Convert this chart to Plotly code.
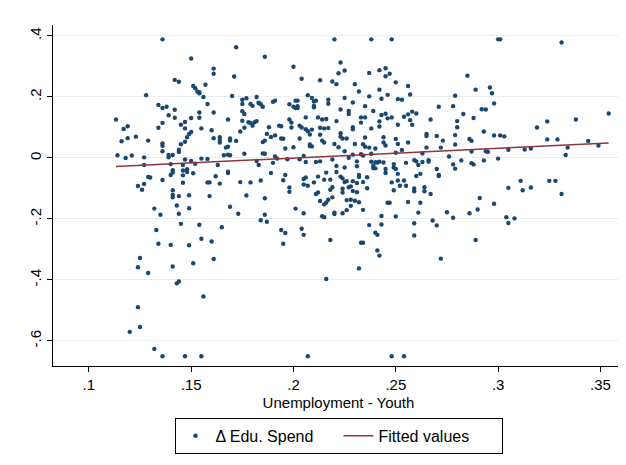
import plotly.graph_objects as go

# Unemployment - Youth (x) and Δ Edu. Spend (y)
unemployment_youth = [
    0.1133,0.114,0.117,0.116,0.119,0.119,0.118,0.121,0.123,0.124,
    0.126,0.127,0.127,0.127,0.128,0.129,0.129,0.130,0.124,0.125,
    0.129,0.124,0.125,0.120,0.132,0.132,0.133,0.134,0.135,0.136,
    0.136,0.134,0.136,0.134,0.136,0.136,0.136,0.136,0.136,0.138,
    0.139,0.139,0.139,0.140,0.141,0.140,0.141,0.141,0.141,0.141,
    0.141,0.140,0.141,0.142,0.142,0.142,0.143,0.144,0.143,0.144,
    0.144,0.144,0.145,0.144,0.144,0.145,0.145,0.146,0.146,0.146,
    0.146,0.147,0.147,0.147,0.147,0.147,0.148,0.148,0.148,0.149,
    0.149,0.149,0.149,0.150,0.150,0.150,0.150,0.151,0.151,0.152,
    0.151,0.152,0.153,0.154,0.154,0.154,0.154,0.154,0.155,0.155,
    0.155,0.155,0.156,0.156,0.157,0.158,0.158,0.158,0.159,0.159,
    0.161,0.160,0.160,0.161,0.161,0.161,0.161,0.162,0.163,0.164,
    0.164,0.164,0.164,0.165,0.166,0.167,0.168,0.168,0.168,0.168,
    0.169,0.169,0.169,0.168,0.169,0.170,0.171,0.172,0.172,0.173,
    0.174,0.174,0.175,0.175,0.175,0.175,0.176,0.176,0.177,0.176,
    0.177,0.178,0.179,0.179,0.179,0.180,0.180,0.181,0.182,0.182,
    0.182,0.183,0.183,0.183,0.184,0.185,0.184,0.184,0.185,0.186,
    0.185,0.186,0.186,0.186,0.186,0.187,0.187,0.188,0.189,0.189,
    0.190,0.191,0.190,0.191,0.191,0.192,0.193,0.194,0.194,0.194,
    0.195,0.195,0.195,0.196,0.196,0.196,0.197,0.198,0.198,0.198,
    0.198,0.199,0.199,0.200,0.200,0.200,0.201,0.201,0.202,0.201,
    0.202,0.202,0.203,0.203,0.203,0.204,0.204,0.204,0.205,0.205,
    0.205,0.205,0.205,0.206,0.206,0.206,0.206,0.207,0.207,0.207,
    0.207,0.208,0.208,0.208,0.209,0.209,0.209,0.210,0.210,0.210,
    0.210,0.211,0.211,0.211,0.212,0.212,0.212,0.213,0.213,0.213,
    0.213,0.213,0.214,0.214,0.214,0.215,0.215,0.215,0.215,0.215,
    0.216,0.216,0.216,0.216,0.217,0.217,0.217,0.217,0.218,0.218,
    0.218,0.219,0.219,0.219,0.220,0.219,0.220,0.220,0.220,0.221,
    0.221,0.221,0.221,0.222,0.222,0.223,0.223,0.223,0.223,0.223,
    0.224,0.224,0.224,0.224,0.224,0.225,0.225,0.225,0.225,0.225,
    0.226,0.226,0.226,0.226,0.227,0.227,0.227,0.227,0.228,0.228,
    0.228,0.229,0.229,0.229,0.229,0.229,0.229,0.230,0.230,0.230,
    0.231,0.231,0.231,0.231,0.232,0.232,0.232,0.232,0.232,0.233,
    0.233,0.233,0.233,0.234,0.234,0.234,0.234,0.234,0.235,0.235,
    0.235,0.235,0.236,0.236,0.237,0.237,0.237,0.237,0.238,0.238,
    0.238,0.238,0.239,0.239,0.239,0.240,0.240,0.240,0.240,0.241,
    0.241,0.241,0.242,0.242,0.242,0.242,0.242,0.242,0.243,0.243,
    0.243,0.243,0.244,0.244,0.244,0.245,0.245,0.245,0.245,0.245,
    0.245,0.246,0.246,0.246,0.247,0.247,0.248,0.248,0.248,0.248,
    0.249,0.249,0.249,0.250,0.250,0.250,0.250,0.250,0.251,0.251,
    0.251,0.251,0.251,0.252,0.253,0.253,0.254,0.254,0.254,0.255,
    0.255,0.256,0.256,0.256,0.256,0.257,0.257,0.258,0.258,0.259,
    0.259,0.259,0.259,0.259,0.260,0.260,0.260,0.261,0.261,0.262,
    0.262,0.263,0.263,0.264,0.264,0.265,0.265,0.265,0.266,0.266,
    0.267,0.267,0.268,0.270,0.270,0.271,0.270,0.271,0.271,0.272,
    0.272,0.273,0.275,0.276,0.278,0.278,0.278,0.279,0.279,0.279,
    0.279,0.280,0.280,0.282,0.283,0.285,0.286,0.286,0.287,0.287,
    0.287,0.288,0.288,0.289,0.289,0.290,0.291,0.292,0.293,0.293,
    0.294,0.294,0.295,0.296,0.297,0.298,0.298,0.298,0.300,0.301,
    0.300,0.301,0.303,0.304,0.305,0.305,0.305,0.308,0.311,0.312,
    0.313,0.316,0.316,0.319,0.324,0.325,0.324,0.328,0.329,0.331,
    0.331,0.333,0.334,0.338,0.344,0.349,0.354,
]

delta_edu_spend = [
    0.126,0.009,0.095,0.055,0.104,0.065,0.000,0.008,0.070,-0.092,
    -0.104,-0.085,0.002,-0.023,0.206,0.057,-0.062,-0.064,-0.358,-0.328,
    -0.377,-0.489,-0.554,-0.570,-0.626,-0.166,-0.236,-0.281,-0.186,-0.650,
    0.389,0.174,0.164,0.099,0.115,0.048,0.040,0.022,-0.072,0.168,
    0.140,0.010,0.002,-0.020,0.010,-0.056,-0.040,-0.048,-0.106,-0.121,
    -0.129,-0.285,-0.356,0.256,0.158,0.132,-0.411,-0.405,-0.156,-0.183,
    -0.125,0.250,-0.216,0.020,0.027,0.109,0.045,-0.023,-0.041,-0.057,
    -0.081,-0.650,0.097,0.053,0.118,-0.005,0.068,-0.037,-0.046,-0.165,
    -0.286,0.079,-0.122,0.326,0.131,-0.010,0.085,-0.345,-0.050,-0.019,
    0.236,0.229,0.218,0.216,0.212,0.149,0.132,-0.219,-0.650,-0.265,
    0.097,-0.002,0.200,-0.454,0.240,0.177,-0.080,-0.003,-0.125,-0.080,
    0.149,0.091,-0.274,-0.331,0.293,0.276,0.065,-0.060,-0.023,0.059,
    0.068,0.051,-0.084,-0.227,0.009,0.034,0.037,-0.045,-0.049,0.126,
    0.064,0.057,-0.160,0.011,0.009,0.203,0.267,0.363,0.056,-0.183,
    -0.079,0.087,0.153,0.177,0.191,0.122,0.099,0.144,-0.123,0.014,
    0.196,0.117,0.115,0.177,-0.080,0.106,0.171,0.117,0.121,-0.010,
    0.200,-0.023,0.181,0.180,0.176,0.168,-0.074,-0.204,0.015,0.332,
    0.052,0.057,0.014,-0.132,-0.186,-0.209,0.079,0.101,-0.049,0.069,
    0.184,0.074,-0.016,0.188,0.005,-0.002,0.106,0.104,-0.236,0.064,
    0.063,-0.073,-0.281,-0.246,0.031,-0.056,-0.004,0.176,-0.097,-0.111,
    0.126,0.100,0.116,0.299,0.035,0.168,0.188,0.164,0.188,-0.166,
    0.164,0.170,0.064,0.106,-0.004,-0.232,0.260,0.100,-0.087,-0.069,
    -0.181,-0.252,0.007,0.094,0.133,-0.064,-0.013,0.088,0.206,-0.091,
    -0.650,0.044,0.077,0.039,0.093,0.038,0.197,0.185,0.171,0.166,
    -0.080,-0.013,-0.118,0.188,0.133,-0.113,-0.061,-0.011,0.099,0.076,
    0.255,-0.141,0.126,-0.191,0.057,0.051,-0.152,0.097,-0.071,-0.194,
    0.128,-0.048,-0.146,-0.397,0.098,0.178,-0.137,0.191,-0.104,-0.269,
    -0.071,0.251,-0.005,-0.096,0.389,-0.129,-0.184,-0.179,0.046,0.242,
    -0.026,0.121,-0.046,0.278,0.035,0.159,-0.061,0.081,0.070,0.313,
    -0.067,-0.181,-0.113,0.064,-0.101,0.197,-0.031,0.022,0.287,-0.079,
    -0.076,0.064,-0.171,-0.138,0.154,0.001,-0.096,0.144,-0.137,-0.093,
    -0.157,-0.076,0.101,0.011,-0.108,0.094,0.182,0.046,0.242,-0.140,
    -0.011,-0.082,-0.027,-0.112,-0.145,-0.062,-0.056,0.218,-0.362,0.116,
    -0.278,0.012,0.133,-0.170,0.045,0.008,-0.079,-0.278,0.170,0.067,
    0.037,0.133,-0.099,-0.063,-0.220,0.202,0.279,0.034,-0.012,0.389,
    0.097,0.014,-0.033,0.154,-0.025,-0.014,0.031,-0.034,-0.245,-0.015,
    -0.252,-0.303,0.120,0.288,-0.320,0.103,-0.012,0.224,0.194,-0.190,
    0.141,-0.218,-0.015,0.051,0.068,-0.036,-0.049,0.294,0.268,0.041,
    0.145,-0.147,0.207,0.130,0.276,-0.147,0.389,-0.080,-0.650,0.133,
    -0.020,-0.106,-0.031,-0.036,-0.192,0.017,0.062,0.248,-0.052,-0.074,
    0.046,0.109,0.193,-0.091,0.191,0.026,-0.650,-0.074,0.135,-0.016,
    -0.091,0.236,0.143,0.051,-0.144,0.208,0.124,0.109,0.152,-0.100,
    -0.109,-0.254,-0.214,-0.007,-0.059,-0.011,0.146,-0.179,-0.023,-0.052,
    -0.147,0.015,-0.013,-0.096,-0.109,0.034,0.079,0.072,-0.007,-0.012,
    0.126,-0.118,-0.205,-0.221,0.072,0.168,-0.036,-0.056,-0.059,-0.330,
    0.034,0.057,-0.178,0.005,-0.021,0.170,-0.196,-0.035,0.204,0.044,
    0.075,0.121,0.101,-0.008,0.144,0.270,-0.181,0.062,0.056,-0.017,
    0.021,-0.021,0.131,-0.269,0.224,-0.169,-0.131,0.160,0.087,-0.008,
    0.159,0.022,0.020,0.231,0.212,0.179,-0.150,0.074,0.389,0.389,
    -0.002,0.074,0.071,-0.194,0.027,-0.098,-0.213,-0.198,-0.075,-0.106,
    0.028,0.031,-0.097,0.100,0.061,-0.075,0.120,-0.075,0.061,-0.118,
    0.379,0.010,0.034,0.126,0.056,0.041,0.146,
]

assert len(unemployment_youth) == len(delta_edu_spend)

# Fitted values line endpoints
fit_x = [0.1133, 0.354]
fit_y = [-0.028, 0.049]

x_tick_vals = [0.1, 0.15, 0.2, 0.25, 0.3, 0.35]
x_tick_text = [".1", ".15", ".2", ".25", ".3", ".35"]
y_tick_vals = [0.4, 0.2, 0.0, -0.2, -0.4, -0.6]
y_tick_text = [".4", ".2", "0", "-.2", "-.4", "-.6"]

FONT = "Liberation Sans, Arial, Helvetica, sans-serif"

fig = go.Figure()
fig.add_trace(go.Scatter(
    x=unemployment_youth, y=delta_edu_spend, mode="markers",
    name="Δ Edu. Spend",
    marker=dict(color="#1a476f", size=4.4, line=dict(width=0)),
))
fig.add_trace(go.Scatter(
    x=fit_x, y=fit_y, mode="lines", name="Fitted values",
    line=dict(color="#90353b", width=1.5),
))

# the page body adds an 8 px offset, so the figure is a bit smaller
fig.update_layout(
    width=618, height=457,
    margin=dict(l=45, r=2, t=17, b=99),
    paper_bgcolor="white", plot_bgcolor="white",
    font=dict(family=FONT, size=15, color="black"),
    showlegend=True,
    legend=dict(
        orientation="h", x=0.5, xanchor="center", y=-0.152, yanchor="top",
        bordercolor="black", borderwidth=1, bgcolor="white",
        font=dict(family=FONT, size=16, color="black"),
        entrywidth=118, itemwidth=30,
    ),
    xaxis=dict(
        range=[0.0825, 0.3615],
        tickvals=x_tick_vals, ticktext=x_tick_text,
        ticks="outside", ticklen=5, tickcolor="black",
        showline=True, linecolor="black", linewidth=1,
        showgrid=False, zeroline=False,
        tickfont=dict(size=15),
        title=dict(text="Unemployment - Youth", font=dict(size=15), standoff=5),
    ),
    yaxis=dict(
        range=[-0.682, 0.436],
        tickvals=y_tick_vals, ticktext=y_tick_text,
        tickangle=-90,
        ticks="outside", ticklen=5, tickcolor="black",
        showline=True, linecolor="black", linewidth=1,
        showgrid=True, gridcolor="#e8eff1", gridwidth=1,
        zeroline=False,
        tickfont=dict(size=15),
    ),
)

fig.write_html("out.html")
